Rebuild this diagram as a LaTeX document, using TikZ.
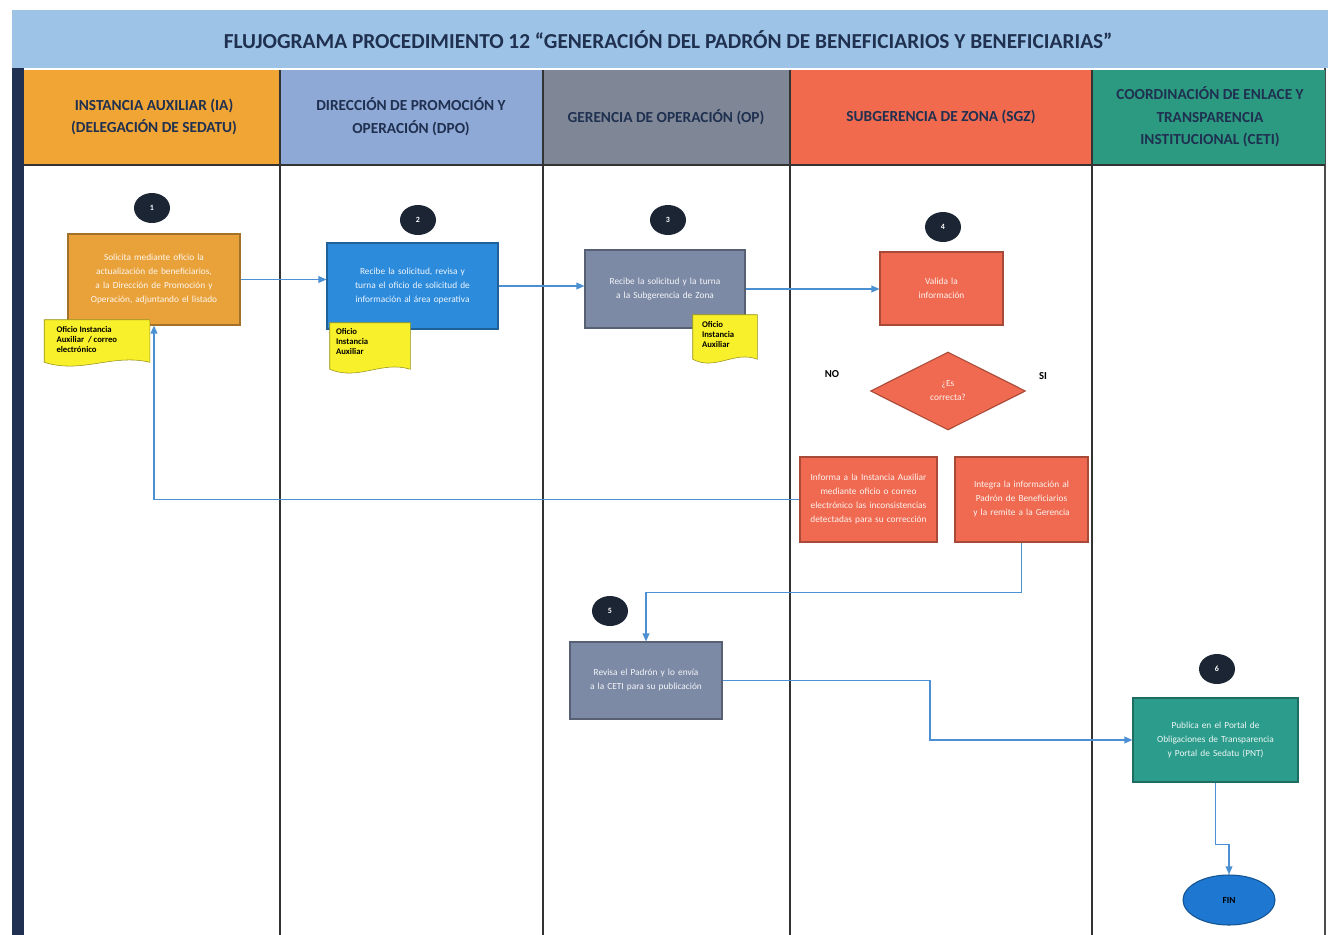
\documentclass[tikz,border=0pt]{standalone}
\usepackage{fontspec}
\setmainfont{Carlito}
\usetikzlibrary{shapes.geometric,arrows.meta,calc}
\hyphenpenalty=10000
\exhyphenpenalty=10000
\definecolor{navy}{HTML}{1F3050}
\definecolor{titlebg}{HTML}{9DC3E6}
\definecolor{iaor}{HTML}{F0A535}
\definecolor{dpobl}{HTML}{8FA9D6}
\definecolor{gogr}{HTML}{7F8796}
\definecolor{szco}{HTML}{F26A4E}
\definecolor{ceti}{HTML}{2B9A80}
\definecolor{b1c}{HTML}{E9A13A}
\definecolor{b2c}{HTML}{2D8BDC}
\definecolor{b3c}{HTML}{7D8AA6}
\definecolor{b4c}{HTML}{EF6A50}
\definecolor{b6c}{HTML}{2C9C8C}
\definecolor{finc}{HTML}{1E78D2}
\definecolor{flowc}{HTML}{4A90D2}
\definecolor{circc}{HTML}{1C2533}
\definecolor{notec}{HTML}{F8F02A}
\tikzset{
  hdr/.style={font=\fontsize{11.5}{17}\selectfont\bfseries, text=navy, align=center},
  stepnum/.style={ellipse, fill=circc, minimum width=36*0.75pt, minimum height=30*0.75pt, inner sep=0pt, text=white, font=\fontsize{6}{7}\selectfont\bfseries},
  procbox/.style={rectangle, draw=#1!70!black, fill=#1, line width=0.8pt, text=white!92!#1, align=center, font=\fontsize{7}{10.5}\selectfont, inner sep=2pt},
  notebox/.style={rectangle, inner sep=0pt},
  notetext/.style={inner sep=0pt, align=left, text=black, font=\fontsize{6.5}{7.8}\selectfont\bfseries},
  notebg/.style={fill=notec, draw=notec!60!black, line width=0.4pt},
  lane/.style={draw=black!80, line width=0.8pt},
  flow/.style={draw=flowc, line width=1pt, -{Triangle[length=6pt,width=5pt]}},
  lbl/.style={font=\fontsize{8}{9}\selectfont\bfseries, text=black}
}
\begin{document}
\begin{tikzpicture}[x=0.75pt, y=-0.75pt]
\useasboundingbox (0,0) rectangle (1328,935);
\fill[white] (0,0) rectangle (1328,935);
% title band
\fill[titlebg] (12,10) rectangle (1328,68);
\node[font=\fontsize{16}{18}\selectfont\bfseries, text=navy] (title) at (668,40) {FLUJOGRAMA PROCEDIMIENTO 12 ``GENERACIÓN DEL PADRÓN DE BENEFICIARIOS Y BENEFICIARIAS''};
% left dark strip and right border
\fill[navy] (12,68) rectangle (24,935);
\draw[black!70, line width=1pt] (1325,68) -- (1325,935);
% headers
\fill[iaor] (24,70) rectangle (280,165);
\fill[dpobl] (280,70) rectangle (543,165);
\fill[gogr] (543,70) rectangle (790,165);
\fill[szco] (790,70) rectangle (1092,165);
\fill[ceti] (1092,70) rectangle (1325,165);
\node[hdr] (h1) at (154,117) {INSTANCIA AUXILIAR (IA)\\(DELEGACIÓN DE SEDATU)};
\node[hdr] (h2) at (411,117) {DIRECCIÓN DE PROMOCIÓN Y\\OPERACIÓN (DPO)};
\node[hdr] (h3) at (666,117) {GERENCIA DE OPERACIÓN (OP)};
\node[hdr] (h4) at (941,117) {SUBGERENCIA DE ZONA (SGZ)};
\node[hdr] (h5) at (1210,117) {COORDINACIÓN DE ENLACE Y\\TRANSPARENCIA\\INSTITUCIONAL (CETI)};
% lane lines
\draw[lane] (280,70) -- (280,935);
\draw[lane] (543,70) -- (543,935);
\draw[lane] (790,70) -- (790,935);
\draw[lane] (1092,70) -- (1092,935);
\draw[lane] (24,165) -- (1325,165);

% step 1
\node[stepnum] (c1) at (152,208) {1};
\node[procbox=b1c, minimum width=172*0.75pt, minimum height=91*0.75pt, text width=150*0.75pt] (b1) at (154,279.5) {Solicita mediante oficio la actualización de beneficiarios, a la Dirección de Promoción y Operación, adjuntando el listado};
% step 2
\node[stepnum] (c2) at (418,220) {2};
\node[procbox=b2c, minimum width=171*0.75pt, minimum height=86*0.75pt, text width=150*0.75pt] (b2) at (412.5,286) {Recibe la solicitud, revisa y turna el oficio de solicitud de información al área operativa};
% step 3
\node[stepnum] (c3) at (668,220) {3};
\node[procbox=b3c, minimum width=160*0.75pt, minimum height=78*0.75pt, text width=140*0.75pt] (b3) at (665,289) {Recibe la solicitud y la turna a la Subgerencia de Zona};
% step 4
\node[stepnum] (c4) at (943,227) {4};
\node[procbox=b4c, minimum width=123*0.75pt, minimum height=73*0.75pt, text width=105*0.75pt] (b4) at (941.5,288.5) {Valida la\\información};
\node[procbox=b4c, diamond, shape aspect=2, minimum width=155*0.75pt, minimum height=78*0.75pt, inner sep=0pt] (d4) at (948,391) {¿Es\\correcta?};
\node[lbl] (lno) at (832,374) {NO};
\node[lbl] (lsi) at (1043,376) {SI};
\node[procbox=b4c, minimum width=137*0.75pt, minimum height=85*0.75pt, text width=125*0.75pt] (bno) at (868.5,499.5) {Informa a la Instancia Auxiliar mediante oficio o correo electrónico las inconsistencias detectadas para su corrección};
\node[procbox=b4c, minimum width=133*0.75pt, minimum height=85*0.75pt, text width=120*0.75pt] (bsi) at (1021.5,499.5) {Integra la información al Padrón de Beneficiarios y la remite a la Gerencia};
% step 5
\node[stepnum] (c5) at (610,611) {5};
\node[procbox=b3c, minimum width=152*0.75pt, minimum height=77*0.75pt, text width=135*0.75pt] (b5) at (646,680.5) {Revisa el Padrón y lo envía a la CETI para su publicación};
% step 6
\node[stepnum] (c6) at (1217,669) {6};
\node[procbox=b6c, minimum width=165*0.75pt, minimum height=84*0.75pt, text width=145*0.75pt] (b6) at (1215.5,740) {Publica en el Portal de Obligaciones de Transparencia y Portal de Sedatu (PNT)};
\node[ellipse, fill=finc, draw=finc!70!black, line width=0.8pt, minimum width=92*0.75pt, minimum height=50*0.75pt, text=black, font=\fontsize{7}{8}\selectfont\bfseries] (fin) at (1229,900) {FIN};

% yellow document notes: frame, wavy shape, then text
\node[notebox, minimum width=105*0.75pt, minimum height=42*0.75pt] (f1) at (97,341) {};
\node[notebox, minimum width=80*0.75pt, minimum height=46*0.75pt] (f2) at (370,346) {};
\node[notebox, minimum width=64*0.75pt, minimum height=44*0.75pt] (f3) at (725,337) {};
\foreach \n in {f1,f2,f3}{
  \path[notebg] (\n.north west) -- (\n.north east) -- (\n.south east)
    .. controls ($(\n.south west)!0.65!(\n.south east)+(0,-9)$) and ($(\n.south west)!0.35!(\n.south east)+(0,12)$) .. (\n.south west) -- cycle;
}
\node[notetext, anchor=north west] (n1) at ($(f1.north west)+(12,6)$) {Oficio Instancia\\Auxiliar\ \ / correo\\electrónico};
\node[notetext, anchor=north west] (n2) at ($(f2.north west)+(6,5)$) {Oficio\\Instancia\\Auxiliar};
\node[notetext, anchor=north west] (n3) at ($(f3.north west)+(9,6)$) {Oficio\\Instancia\\Auxiliar};

% connectors
\coordinate (m1) at (930,700);
\draw[flow] (b1.east) -- (b1.east -| b2.west);
\draw[flow] (b2.east) -- (b2.east -| b3.west);
\draw[flow] (b3.east) -- (b3.east -| b4.west);
\draw[flow] (bno.west) -| (b1.south);
\draw[flow] (bsi.south) -- ++(0,50) -| (b5.north);
\draw[flow] (b5.east) -- (b5.east -| m1) -- (m1 |- b6.west) -- (b6.west);
\draw[flow] (b6.south) -- ++(0,62) -| (fin.north);
\end{tikzpicture}
\end{document}
